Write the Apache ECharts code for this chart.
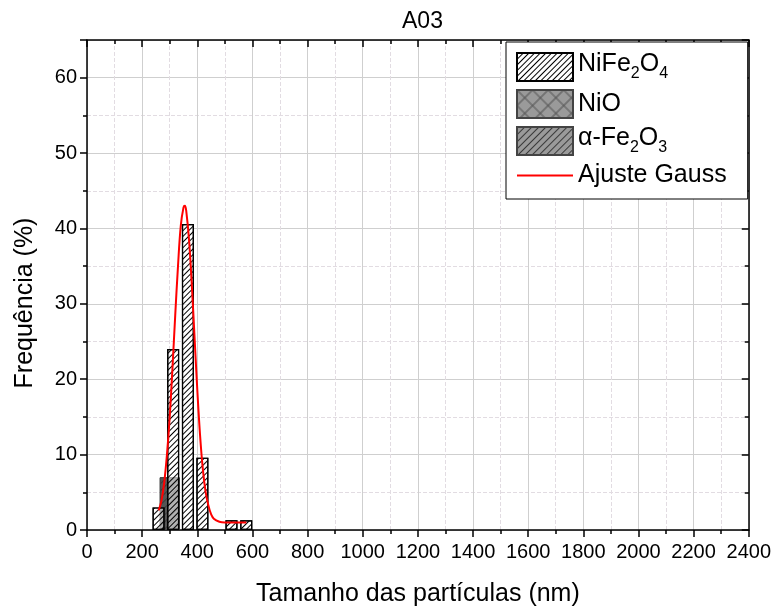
<!DOCTYPE html>
<html><head><meta charset="utf-8">
<script src="https://cdn.jsdelivr.net/npm/echarts@6/dist/echarts.min.js"></script>
<style>html,body{margin:0;padding:0;background:#fff}#c{width:774px;height:612px}</style>
</head><body><div id="c"></div>
<script>
// ---- data ----
const seriesNames = ['NiFe2O4', 'NiO', 'α-Fe2O3', 'Ajuste Gauss'];
const nife2o4Centers = [259.5, 312.5, 366, 418.5, 524, 577.5];
const nife2o4Values  = [3.0, 24.0, 40.6, 9.6, 1.3, 1.3];
const nioCenters = [];
const nioValues  = [];
const fe2o3Centers = [300];
const fe2o3Values  = [7.0];
const gaussX = [260, 270, 280, 290, 300, 310, 320, 330, 340, 350, 355, 360, 370, 380, 390, 400, 410, 420, 430, 440, 450, 460, 480, 500, 540, 578];
const gaussY = [2.6, 3.9, 6.3, 10.0, 15.0, 21.5, 28.5, 35.0, 40.3, 42.8, 43.0, 42.3, 38.5, 32.6, 25.6, 18.6, 12.6, 8.1, 5.1, 3.3, 2.1, 1.5, 1.1, 1.0, 1.0, 1.0];

const FONT = 'Liberation Sans, Arial, sans-serif';
const zip = (a, b) => a.map((v, i) => [v, b[i]]);

const legendLabels = {
  'NiFe2O4': '{t|NiFe}{s|2}{t|O}{s|4}',
  'NiO': '{t|NiO}',
  'α-Fe2O3': '{t|α-Fe}{s|2}{t|O}{s|3}',
  'Ajuste Gauss': '{t|Ajuste Gauss}'
};

const hatch = (color, gap) => ({
  symbol: 'rect', symbolSize: 1, color: color,
  dashArrayX: [1, 0], dashArrayY: [1, gap], rotation: -Math.PI / 4
});
const crossHatch = (color) => ({
  symbol: 'path://M0,0H20V20H0ZM1,1V19H19V1Z', symbolSize: 1, color: color,
  dashArrayX: [11, 0], dashArrayY: [11, 0], rotation: Math.PI / 4
});

const chart = echarts.init(document.getElementById('c'), null, {renderer: 'canvas'});
const commonX = {type: 'value', min: 0, max: 2400, interval: 200};
const option = {
  animation: false,
  backgroundColor: '#fff',
  title: {text: 'A03', left: 397, top: 5, textStyle: {fontFamily: FONT, fontSize: 23, fontWeight: 'normal', color: '#000'}},
  grid: {left: 87, right: 23, top: 40, bottom: 77, containLabel: false},
  legend: {
    orient: 'vertical', left: 506, top: 42,
    itemWidth: 56, itemHeight: 28, itemGap: 7,
    padding: [10, 21, 11, 10],
    backgroundColor: '#fff', borderColor: '#000', borderWidth: 1, borderRadius: 0,
    data: [
      {name: 'NiFe2O4', icon: 'rect', itemStyle: {color: '#fff'}},
      {name: 'NiO', icon: 'rect', itemStyle: {color: '#9a9a9a', decal: crossHatch('#555')}},
      {name: 'α-Fe2O3', icon: 'rect', itemStyle: {color: '#9a9a9a'}},
      {name: 'Ajuste Gauss', itemStyle: {opacity: 0}, lineStyle: {color: '#ff0000', width: 2}}
    ],
    formatter: n => legendLabels[n],
    textStyle: {
      fontFamily: FONT, color: '#000',
      rich: {
        t: {fontFamily: FONT, fontSize: 25, color: '#000', verticalAlign: 'top'},
        s: {fontFamily: FONT, fontSize: 16, color: '#000', verticalAlign: 'top', padding: [14, 0, 0, 0]}
      }
    }
  },
  xAxis: [
    Object.assign({}, commonX, {
      position: 'bottom',
      name: 'Tamanho das partículas (nm)', nameLocation: 'middle', nameGap: 52,
      nameTextStyle: {fontFamily: FONT, fontSize: 25, color: '#000'},
      axisLine: {show: true, onZero: false, lineStyle: {color: '#000', width: 1.5}},
      axisTick: {show: true, inside: false, length: 7, lineStyle: {color: '#000', width: 1.5}},
      minorTick: {show: true, splitNumber: 2, length: 4, lineStyle: {color: '#000', width: 1.5}},
      axisLabel: {fontFamily: FONT, fontSize: 20, color: '#000', margin: 12, formatter: v => String(v)},
      splitLine: {show: true, lineStyle: {color: '#cfcfcf', width: 1}},
      minorSplitLine: {show: true, lineStyle: {color: '#e2dce2', width: 1, type: 'dashed'}}
    }),
    Object.assign({}, commonX, {
      position: 'top',
      axisLine: {show: true, onZero: false, lineStyle: {color: '#000', width: 1.5}},
      axisTick: {show: true, inside: true, length: 7, lineStyle: {color: '#000', width: 1.5}},
      minorTick: {show: true, splitNumber: 2, length: 4, lineStyle: {color: '#000', width: 1.5}},
      axisLabel: {show: false},
      splitLine: {show: false}
    })
  ],
  yAxis: [
    {
      type: 'value', min: 0, max: 65, interval: 10, position: 'left',
      name: 'Frequência (%)', nameLocation: 'middle', nameGap: 49,
      nameTextStyle: {fontFamily: FONT, fontSize: 25, color: '#000', padding: [0, 36, 0, 0]},
      axisLine: {show: true, onZero: false, lineStyle: {color: '#000', width: 1.5}},
      axisTick: {show: true, inside: false, length: 7, lineStyle: {color: '#000', width: 1.5}},
      minorTick: {show: true, splitNumber: 2, length: 4, lineStyle: {color: '#000', width: 1.5}},
      axisLabel: {fontFamily: FONT, fontSize: 20, color: '#000', margin: 10, showMaxLabel: false},
      splitLine: {show: true, lineStyle: {color: '#cfcfcf', width: 1}},
      minorSplitLine: {show: true, lineStyle: {color: '#e2dce2', width: 1, type: 'dashed'}}
    },
    {
      type: 'value', min: 0, max: 65, interval: 10, position: 'right',
      axisLine: {show: true, onZero: false, lineStyle: {color: '#000', width: 1.5}},
      axisTick: {show: true, inside: true, length: 7, lineStyle: {color: '#000', width: 1.5}},
      minorTick: {show: true, splitNumber: 2, length: 4, lineStyle: {color: '#000', width: 1.5}},
      axisLabel: {show: false},
      splitLine: {show: false}
    }
  ],
  series: [
    {
      name: 'NiO', type: 'bar', xAxisIndex: 1, yAxisIndex: 0, barWidth: 20, z: 2,
      data: zip(nioCenters, nioValues),
      itemStyle: {color: '#9a9a9a', borderColor: '#444', borderWidth: 1, decal: crossHatch('#555')}
    },
    {
      name: 'α-Fe2O3', type: 'bar', xAxisIndex: 1, yAxisIndex: 0, barWidth: 20, barGap: '-100%', z: 2,
      data: zip(fe2o3Centers, fe2o3Values),
      itemStyle: {color: '#555', borderColor: '#444', borderWidth: 1, decal: hatch('#3a3a3a', 4)}
    },
    {
      name: 'NiFe2O4', type: 'bar', xAxisIndex: 0, yAxisIndex: 0, barWidth: 12, z: 3,
      data: zip(nife2o4Centers, nife2o4Values),
      itemStyle: {color: 'rgba(255,255,255,0.55)', borderColor: '#000', borderWidth: 1.2, decal: hatch('#000', 3)}
    },
    {
      name: 'Ajuste Gauss', type: 'line', xAxisIndex: 0, yAxisIndex: 0, z: 4,
      data: zip(gaussX, gaussY), smooth: 0.4, symbol: 'none', showSymbol: false,
      lineStyle: {color: '#ff0000', width: 2}, itemStyle: {color: '#ff0000'}
    }
  ]
};
chart.setOption(option);
</script>
</body></html>
